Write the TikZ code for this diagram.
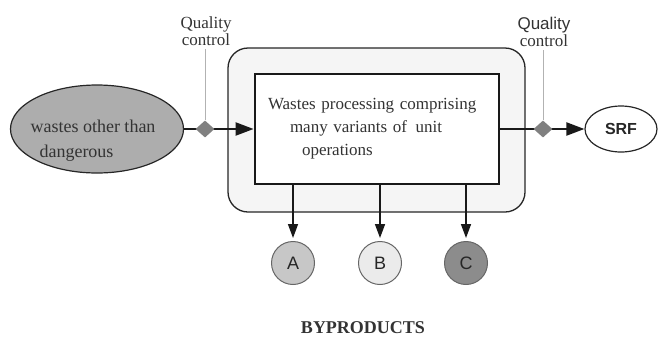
\documentclass[tikz,border=0pt]{standalone}
\usepackage{fontspec}
\setmainfont{Liberation Serif}
\setsansfont{Liberation Sans}
\usetikzlibrary{arrows.meta,shapes.geometric,positioning}
\newcommand*\bydiam{43pt}
\newcommand*\qcdiam{18pt}
\tikzset{
    serif/.style    = {font=\fontsize{17}{23}\selectfont, text=black!80},
    frame/.style    = {draw=black!85, line width=1.3pt, fill=black!4,
                      rounded corners=20pt, minimum width=297pt, minimum height=164pt},
    procbox/.style  = {draw=black!90, line width=2.8pt, fill=white, serif,
                      minimum width=244pt, minimum height=110pt,
                      inner xsep=13pt, text width=218pt, align=left},
    wasteellipse/.style = {draw=black!85, ellipse, fill=black!32, line width=1.2pt,
                      minimum width=173pt, minimum height=88pt, inner sep=0pt},
    wastetext/.style= {serif, font=\fontsize{18}{25}\selectfont, align=left},
    srfellipse/.style = {draw=black!85, ellipse, fill=white, line width=1.2pt,
                      minimum width=72pt, minimum height=46pt, inner sep=0pt,
                      font=\fontsize{16}{18}\sffamily\bfseries, text=black!85},
    qcdiamond/.style= {diamond, fill=black!50, minimum width=19pt, minimum height=17pt, inner sep=0pt},
    qctext/.style   = {serif, font=\fontsize{17}{17}\selectfont, align=center},
    qcline/.style   = {draw=black!30, line width=0.8pt},
    flow/.style     = {draw=black!90, line width=2.2pt, -{Triangle[length=18pt,width=13pt]}},
    outflow/.style  = {draw=black!90, line width=1.5pt, -{Triangle[length=14pt,width=10pt]},
                      shorten >=3pt},
    bycell/.style   = {draw=black!60, circle, line width=1pt, minimum size=\bydiam, inner sep=0pt,
                      font=\fontsize{18}{18}\sffamily, text=black!85},
    bylight/.style  = {bycell, fill=black!22},
    bypale/.style   = {bycell, fill=black!8},
    bydark/.style   = {bycell, fill=black!45},
}
\begin{document}
\begin{tikzpicture}[x=1pt,y=-1pt]
    \useasboundingbox (0,0) rectangle (664,338);

    % process block inside its frame
    \node[frame] (frame) at (376.5,130) {};
    \node[procbox] (proc) at (377,129) {Wastes processing comprising\\
        \hspace*{22pt}many variants of\, unit\\
        \hspace*{34pt}operations};

    % input and output
    \node[wasteellipse, label={[wastetext, xshift=-4pt, yshift=-12pt]center:{wastes other than\\ \hspace*{9pt}dangerous}}] (waste) at (97,129) {};
    \node[srfellipse] (srf) at (621,129) {SRF};

    \draw[flow] (waste) -- (proc);
    \draw[flow] (proc) -- (srf);

    % quality control points
    \node[qcdiamond] (qcl) at (205,129) {};
    \node[qcdiamond] (qcr) at (543,129) {};
    \node[qctext] (qcltext) at (206,31) {Quality\\control};
    \node[qctext] (qcrtext) at (544,32) {{\sffamily Quality}\\control};
    \draw[qcline] (qcl.north) -- (qcl |- qcltext.south);
    \draw[qcline] (qcr.north) -- (qcr |- qcrtext.south);

    % byproducts
    \node[bylight] (bya) at (293,263) {A};
    \node[bypale]  (byb) at (380,263) {B};
    \node[bydark]  (byc) at (466,263) {C};
    \foreach \b in {bya,byb,byc} {
        \draw[outflow] (proc.south -| \b) -- (\b);
    }
    \node[serif, font=\fontsize{18}{18}\bfseries, inner sep=0pt] (byprod) at (363,328) {BYPRODUCTS};
\end{tikzpicture}
\end{document}
